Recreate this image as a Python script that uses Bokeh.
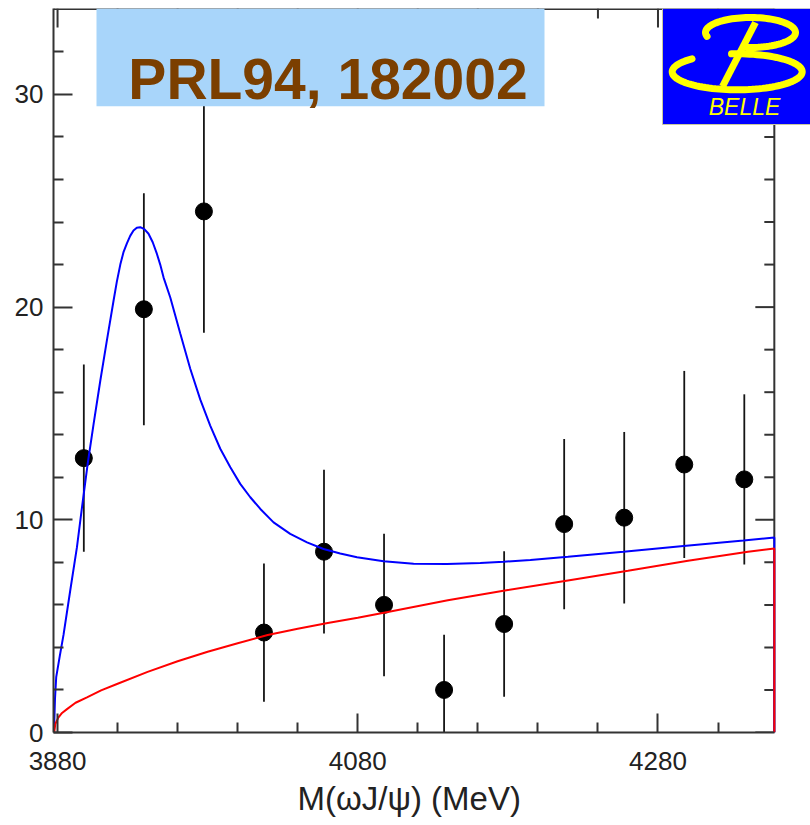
import numpy as np
from bokeh.plotting import figure
from bokeh.models import Range1d, FixedTicker, Title
from bokeh.core.properties import value
from bokeh.embed import file_html
from bokeh.resources import INLINE

# ---------------- data ----------------
mass_bins = [3897.5, 3937.5, 3977.5, 4017.5, 4057.5, 4097.5,
             4137.5, 4177.5, 4217.5, 4257.5, 4297.5, 4337.5]
events = [12.9, 19.9, 24.5, 4.7, 8.5, 6.0, 2.0, 5.1, 9.8, 10.1, 12.6, 11.9]
errors = [4.4, 5.45, 5.7, 3.25, 3.85, 3.35, 2.6, 3.42, 4.0, 4.03, 4.4, 4.0]

fit_mass = [3877.6, 3878.3, 3879.1, 3881.5, 3884.0, 3888.5, 3892.9, 3896.3,
            3900.0, 3904.0, 3908.5, 3912.9, 3917.3, 3919.5, 3921.8, 3924.0,
            3926.2, 3928.4, 3930.6, 3932.8, 3935.1, 3937.8, 3940.6, 3943.4,
            3946.2, 3948.4, 3950.6, 3955.1, 3961.8, 3968.4, 3975.1,
            3981.7, 3988.4, 3995.1, 4001.7, 4008.4, 4015.1, 4023.9, 4035.0,
            4046.2, 4057.2, 4068.3, 4079.5, 4097.2, 4117.2, 4139.4, 4161.6,
            4177.2, 4195.0, 4220.0, 4257.0, 4297.0, 4337.0, 4357.5]
fit_total = [0.0, 1.6, 2.6, 3.6, 4.6, 6.7, 8.7, 10.6,
             12.6, 14.5, 16.55, 18.45, 20.3, 21.2, 22.0, 22.6,
             23.0, 23.35, 23.6, 23.73, 23.76, 23.67, 23.45, 23.05,
             22.5, 22.0, 21.4, 20.45, 18.75, 17.1, 15.65,
             14.43, 13.34, 12.47, 11.69, 11.06, 10.51, 9.88, 9.34,
             8.94, 8.63, 8.42, 8.24, 8.05, 7.93, 7.92, 7.97,
             8.03, 8.11, 8.26, 8.5, 8.77, 9.03, 9.17]

bkg_mass = [3877.8, 3878.5, 3880.5, 3883.0, 3886.3, 3892.0, 3899.6, 3909.0,
            3919.6, 3940.0, 3960.0, 3980.0, 4000.0, 4020.0, 4040.0, 4060.0,
            4080.0, 4100.0, 4140.0, 4180.0, 4220.0, 4260.0, 4300.0, 4340.0, 4357.5]
bkg_vals = [0.0, 0.4, 0.7, 0.92, 1.1, 1.4, 1.65, 1.98,
            2.28, 2.85, 3.35, 3.8, 4.2, 4.58, 4.88, 5.15,
            5.4, 5.67, 6.22, 6.7, 7.15, 7.6, 8.07, 8.5, 8.65]

x_ticks = [3880, 4080, 4280]
x_minor = [3920, 3960, 4000, 4040, 4120, 4160, 4200, 4240, 4320]
y_ticks = [0, 10, 20, 30]
y_minor = [2, 4, 6, 8, 12, 14, 16, 18, 22, 24, 26, 28, 32]

title_text = "PRL94, 182002"
x_title = "M(\u03c9J/\u03c8) (MeV)"

# ---------------- geometry ----------------
X0, X_EDGE, X1 = 3877.3, 4357.5, 4381.6
Y_TOP = 34.04
FRAME_LEFT_PX, FRAME_TOP_PX = 53.0, 8.0
FRAME_W, FRAME_H = 757, 724
FRAME_BOTTOM_PX = FRAME_TOP_PX + FRAME_H
SX = FRAME_W / (X1 - X0)
SY = FRAME_H / Y_TOP


def X(px):
    return X0 + (px - FRAME_LEFT_PX) / SX


def Y(py):
    return (FRAME_BOTTOM_PX - py) / SY


FONT = value("Liberation Sans")
AX_COL = "#333333"
MAJ, MIN = 19, 10

p = figure(frame_width=FRAME_W, frame_height=FRAME_H,
           x_range=Range1d(X0, X1), y_range=Range1d(0, Y_TOP),
           output_backend="svg", toolbar_location=None, title_location=None,
           min_border_left=53, min_border_right=0, min_border_top=8, min_border_bottom=0,
           background_fill_color="white", border_fill_color="white", outline_line_color=None)
p.grid.grid_line_color = None

xa = p.xaxis[0]
xa.ticker = FixedTicker(ticks=x_ticks, minor_ticks=x_minor)
xa.bounds = (X0, X_EDGE)
ya = p.yaxis[0]
ya.ticker = FixedTicker(ticks=y_ticks, minor_ticks=y_minor)
for ax in (xa, ya):
    ax.major_tick_in = MAJ
    ax.major_tick_out = 0
    ax.minor_tick_in = MIN
    ax.minor_tick_out = 0
    ax.axis_line_width = 2
    ax.axis_line_color = AX_COL
    ax.major_tick_line_width = 2
    ax.minor_tick_line_width = 2
    ax.major_tick_line_color = AX_COL
    ax.minor_tick_line_color = AX_COL
    ax.major_label_text_font = "Liberation Sans"
    ax.major_label_text_font_size = "26px"
    ax.major_label_text_color = "#222222"
xa.major_label_standoff = 19
ya.major_label_standoff = 10

# top and right frame with inward ticks
y_top_line = Y_TOP - 0.6 / SY
p.segment(x0=[X0], y0=[y_top_line], x1=[X_EDGE], y1=[y_top_line], line_color=AX_COL, line_width=2)
p.segment(x0=[X_EDGE], y0=[0], x1=[X_EDGE], y1=[Y_TOP], line_color=AX_COL, line_width=2)
p.segment(x0=x_ticks, y0=[Y_TOP] * len(x_ticks), x1=x_ticks,
          y1=[Y_TOP - MAJ / SY] * len(x_ticks), line_color=AX_COL, line_width=2)
p.segment(x0=x_minor, y0=[Y_TOP] * len(x_minor), x1=x_minor,
          y1=[Y_TOP - MIN / SY] * len(x_minor), line_color=AX_COL, line_width=2)
p.segment(x0=[X_EDGE] * len(y_ticks), y0=y_ticks, x1=[X_EDGE - MAJ / SX] * len(y_ticks),
          y1=y_ticks, line_color=AX_COL, line_width=2)
p.segment(x0=[X_EDGE] * len(y_minor), y0=y_minor, x1=[X_EDGE - MIN / SX] * len(y_minor),
          y1=y_minor, line_color=AX_COL, line_width=2)

# data points
lo = [v - e for v, e in zip(events, errors)]
hi = [v + e for v, e in zip(events, errors)]
p.segment(x0=mass_bins, y0=lo, x1=mass_bins, y1=hi, line_color="#151515", line_width=1.8)
p.scatter(x=mass_bins, y=events, size=17, marker="circle", fill_color="black", line_color="black")

# fit curves (closed down to zero at the right edge)
p.line(x=fit_mass + [fit_mass[-1]], y=fit_total + [0], line_color="#0000ff", line_width=2)
p.line(x=bkg_mass + [bkg_mass[-1]], y=bkg_vals + [0], line_color="#ff0000", line_width=2)

# reference box
p.quad(left=[X(96)], right=[X(544)], top=[Y_TOP], bottom=[Y(105.7)],
       fill_color="#a8d5fa", line_color=None)
p.text(x=[X(327.5)], y=[Y(78)], text=[title_text], text_font=FONT, text_font_style="bold",
       text_font_size="57px", text_color="#7b3f00", text_align="center",
       text_baseline="alphabetic")

# Belle logo
p.quad(left=[X(662)], right=[X1], top=[Y_TOP], bottom=[Y(124)],
       fill_color="#0000ff", line_color="#c8c8a0", line_width=1)
YEL = "#ffff00"
t1 = np.radians(np.linspace(195, -95, 80))
p.line(x=X(750 + 45 * np.cos(t1)), y=Y(32 - 15 * np.sin(t1)), line_color=YEL, line_width=7,
       line_cap="round")
t2 = np.radians(np.linspace(134, 455, 100))
p.line(x=X(736.7 + 65 * np.cos(t2)), y=Y(71.3 - 18 * np.sin(t2)), line_color=YEL, line_width=7,
       line_cap="round")
p.line(x=[X(755), X(722)], y=[Y(22), Y(86)], line_color=YEL, line_width=7)
p.text(x=[X(744)], y=[Y(106)], text=["BELLE"], text_font=FONT, text_font_style="italic",
       text_font_size="23px", text_color=YEL, text_align="center", text_baseline="middle")

# x axis title, left-aligned with an offset so that it sits centred on the drawn axis
p.add_layout(Title(text=x_title, align="left", offset=244,
                   text_font="Liberation Sans", text_font_style="normal", text_font_size="33px",
                   text_color="#222222", standoff=11), "below")

open("out.html", "w").write(file_html(p, INLINE))
